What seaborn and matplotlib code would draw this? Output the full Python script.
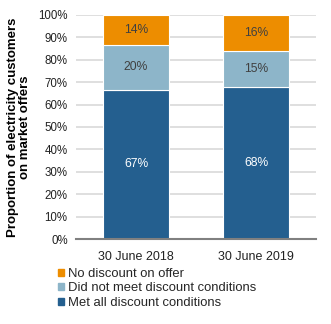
import matplotlib
matplotlib.use("Agg")
import matplotlib.pyplot as plt
import seaborn as sns
import pandas as pd
from matplotlib.patches import Patch

categories = ["30 June 2018", "30 June 2019"]
met_all = [66.7, 68.0]
did_not_meet = [19.9, 15.8]
no_discount = [13.4, 16.2]
met_labels = ["67%", "68%"]
did_not_labels = ["20%", "15%"]
no_disc_labels = ["14%", "16%"]
yticks = [0, 10, 20, 30, 40, 50, 60, 70, 80, 90, 100]

c_met = "#245f8f"
c_did = "#8db5c9"
c_no = "#ed8d00"

sns.set_theme(style="white")
plt.rcParams["font.family"] = ["Liberation Sans", "DejaVu Sans"]

fig = plt.figure(figsize=(3.31, 3.24), dpi=100)
ax = fig.add_axes([76/331, 1 - 239/324, 240/331, 224/324])

df = pd.DataFrame({"cat": categories, "met": met_all, "did": did_not_meet, "no": no_discount})
df["b2"] = df["met"]
df["b3"] = df["met"] + df["did"]

w = 0.55
sns.barplot(data=df, x="cat", y="met", color=c_met, width=w, ax=ax,
            edgecolor="white", linewidth=0.8, saturation=1)
sns.barplot(data=df, x="cat", y="did", bottom=df["b2"], color=c_did, width=w, ax=ax,
            edgecolor="white", linewidth=0.8, saturation=1)
sns.barplot(data=df, x="cat", y="no", bottom=df["b3"], color=c_no, width=w, ax=ax,
            edgecolor="white", linewidth=0.8, saturation=1)

for i in range(len(categories)):
    ax.text(i, met_all[i] / 2, met_labels[i], ha="center", va="center",
            color="white", fontsize=8.7)
    ax.text(i, met_all[i] + did_not_meet[i] / 2, did_not_labels[i], ha="center",
            va="center", color="#404040", fontsize=8.7)
    ax.text(i, met_all[i] + did_not_meet[i] + no_discount[i] / 2, no_disc_labels[i],
            ha="center", va="center", color="#404040", fontsize=8.7)

ax.set_ylim(0, 100)
ax.set_xlim(-0.5, 1.5)
ax.set_yticks(yticks)
ax.set_yticklabels([f"{t}%" for t in yticks], fontsize=8.3, color="#222222")
ax.tick_params(axis="x", labelsize=9, colors="#222222", length=0, pad=9)
ax.tick_params(axis="y", length=0, pad=6)
ax.yaxis.grid(True, color="#d9d9d9", linewidth=1.2)
ax.set_axisbelow(True)
for s in ["top", "right", "left"]:
    ax.spines[s].set_visible(False)
ax.spines["bottom"].set_color("#808080")
ax.spines["bottom"].set_linewidth(1.5)
ax.set_xlabel("")
ax.set_ylabel("Proportion of electricity customers\non market offers", fontsize=9.5,
              fontweight="bold", color="black", labelpad=6, linespacing=1.0)
ax.yaxis.set_label_coords(-45/240, 0.5)

handles = [Patch(color=c_no, label="No discount on offer"),
           Patch(color=c_did, label="Did not meet discount conditions"),
           Patch(color=c_met, label="Met all discount conditions")]
fig.legend(handles=handles, loc="upper left", bbox_to_anchor=(58/331, 1 - 268/324),
           frameon=False, fontsize=9.4, handlelength=0.45, handleheight=0.45,
           handletextpad=0.35, labelspacing=0.18, borderpad=0, borderaxespad=0)

fig.savefig("out.png", dpi=100)
